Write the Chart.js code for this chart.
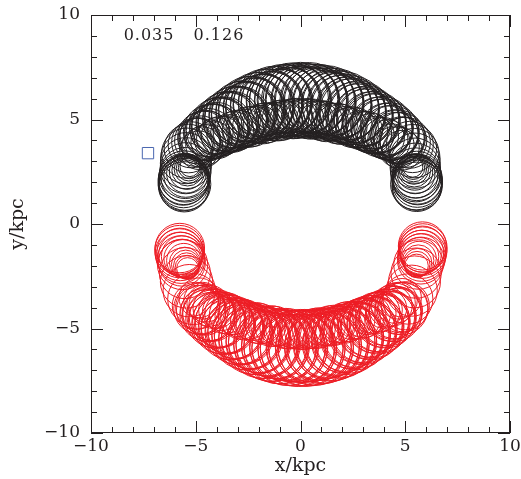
<!DOCTYPE html>
<html lang="en">
<head>
<meta charset="UTF-8">
<title>Orbit loops in the x-y plane</title>
<script src="https://cdn.jsdelivr.net/npm/chart.js"></script>
<style>
  html, body { margin: 0; padding: 0; background: #fff; }
  #wrap { width: 521px; height: 479px; }
</style>
</head>
<body>
<div id="wrap"><canvas id="orbitChart"></canvas></div>
<script>
// axis range and labelled ticks (kpc)
const axisMin = -10, axisMax = 10;
const tickLabels = [-10, -5, 0, 5, 10];
const headerValues = ['0.035', '0.126'];

// upper orbit: loop centres (kpc) and loop radii (kpc)
// rows: wide loops, wide loops (half step), inner loops, inner loops (half step), right end, left end
const upperX = [
  5.00, 4.83, 4.64, 4.46, 4.27, 4.08, 3.90, 3.71, 3.53, 3.34, 3.15, 2.98, 2.79, 2.61, 2.42, 2.23, 2.03, 1.84, 1.64, 1.44, 1.24, 1.03, 0.83, 0.62, 0.42, 0.21, 0.00, -0.21, -0.42, -0.62, -0.83, -1.03, -1.24, -1.44, -1.64, -1.84, -2.03, -2.23, -2.42, -2.61, -2.79, -2.98, -3.15, -3.34, -3.53, -3.71, -3.90, -4.08, -4.27, -4.46, -4.64, -4.83, -5.00,
  4.91, 4.74, 4.55, 4.37, 4.17, 3.99, 3.80, 3.62, 3.44, 3.25, 3.06, 2.88, 2.70, 2.51, 2.32, 2.13, 1.94, 1.74, 1.54, 1.34, 1.14, 0.93, 0.73, 0.52, 0.31, 0.10, -0.10, -0.31, -0.52, -0.73, -0.93, -1.14, -1.34, -1.54, -1.74, -1.94, -2.13, -2.32, -2.51, -2.70, -2.88, -3.06, -3.25, -3.44, -3.62, -3.80, -3.99, -4.17, -4.37, -4.55, -4.74, -4.91,
  4.85, 4.52, 4.17, 3.78, 3.39, 3.02, 2.65, 2.28, 1.93, 1.58, 1.22, 0.88, 0.53, 0.18, -0.18, -0.53, -0.88, -1.22, -1.58, -1.93, -2.28, -2.65, -3.02, -3.39, -3.78, -4.17, -4.52, -4.85,
  4.69, 4.35, 3.98, 3.59, 3.20, 2.84, 2.46, 2.11, 1.75, 1.40, 1.05, 0.70, 0.35, 0.00, -0.35, -0.70, -1.05, -1.40, -1.75, -2.11, -2.46, -2.84, -3.20, -3.59, -3.98, -4.35, -4.69,
  5.22, 5.35, 5.43, 5.46, 5.47, 5.48, 5.50, 5.55, 5.57, 5.58, 5.57, 5.55, 5.52, 5.60, 5.50, 5.50, 5.47, 5.45, 5.43, 5.41, 5.40, 5.38, 5.36,
  -5.22, -5.35, -5.43, -5.46, -5.47, -5.48, -5.50, -5.55, -5.57, -5.58, -5.57, -5.55, -5.52, -5.60, -5.50, -5.48, -5.45, -5.42, -5.39, -5.36, -5.33, -5.30, -5.28
];
const upperY = [
  3.91, 4.05, 4.18, 4.31, 4.42, 4.53, 4.64, 4.74, 4.85, 4.96, 5.05, 5.15, 5.25, 5.35, 5.44, 5.52, 5.59, 5.66, 5.72, 5.77, 5.82, 5.86, 5.89, 5.92, 5.94, 5.94, 5.95, 5.94, 5.94, 5.92, 5.89, 5.86, 5.82, 5.77, 5.72, 5.66, 5.59, 5.52, 5.44, 5.35, 5.25, 5.15, 5.05, 4.96, 4.85, 4.74, 4.64, 4.53, 4.42, 4.31, 4.18, 4.05, 3.91,
  3.98, 4.12, 4.24, 4.37, 4.47, 4.59, 4.69, 4.80, 4.91, 5.00, 5.10, 5.20, 5.30, 5.39, 5.48, 5.55, 5.63, 5.69, 5.75, 5.80, 5.84, 5.88, 5.91, 5.93, 5.94, 5.95, 5.95, 5.94, 5.93, 5.91, 5.88, 5.84, 5.80, 5.75, 5.69, 5.63, 5.55, 5.48, 5.39, 5.30, 5.20, 5.10, 5.00, 4.91, 4.80, 4.69, 4.59, 4.47, 4.37, 4.24, 4.12, 3.98,
  3.53, 3.79, 4.03, 4.20, 4.33, 4.48, 4.59, 4.67, 4.77, 4.85, 4.90, 4.97, 5.02, 5.05, 5.05, 5.02, 4.97, 4.90, 4.85, 4.77, 4.67, 4.59, 4.48, 4.33, 4.20, 4.03, 3.79, 3.53,
  3.67, 3.91, 4.11, 4.27, 4.41, 4.54, 4.64, 4.73, 4.81, 4.88, 4.94, 5.00, 5.04, 5.05, 5.04, 5.00, 4.94, 4.88, 4.81, 4.73, 4.64, 4.54, 4.41, 4.27, 4.11, 3.91, 3.67,
  3.79, 3.61, 3.39, 3.15, 2.91, 2.67, 2.44, 2.30, 2.15, 2.00, 1.85, 1.78, 1.90, 2.08, 2.20, 2.30, 2.40, 2.48, 2.55, 2.60, 2.64, 2.68, 2.72,
  3.79, 3.61, 3.39, 3.15, 2.91, 2.67, 2.44, 2.30, 2.15, 2.00, 1.85, 1.78, 1.90, 2.08, 2.20, 2.32, 2.42, 2.50, 2.57, 2.62, 2.66, 2.70, 2.74
];
const upperR = [
  1.20, 1.08, 1.28, 1.15, 1.38, 1.24, 1.46, 1.32, 1.50, 1.36, 1.55, 1.40, 1.60, 1.45, 1.65, 1.50, 1.70, 1.55, 1.72, 1.55, 1.75, 1.60, 1.75, 1.60, 1.78, 1.62, 1.78, 1.65, 1.76, 1.58, 1.74, 1.56, 1.73, 1.52, 1.70, 1.50, 1.66, 1.45, 1.62, 1.42, 1.58, 1.38, 1.52, 1.32, 1.46, 1.26, 1.40, 1.20, 1.32, 1.10, 1.22, 1.02, 1.15,
  1.12, 1.22, 1.10, 1.30, 1.18, 1.40, 1.27, 1.44, 1.32, 1.50, 1.35, 1.55, 1.40, 1.58, 1.45, 1.62, 1.48, 1.66, 1.50, 1.68, 1.52, 1.70, 1.55, 1.72, 1.56, 1.74, 1.58, 1.72, 1.55, 1.70, 1.52, 1.68, 1.50, 1.66, 1.48, 1.62, 1.45, 1.58, 1.42, 1.55, 1.38, 1.50, 1.34, 1.44, 1.28, 1.38, 1.22, 1.28, 1.15, 1.20, 1.05, 1.10,
  0.95, 0.90, 0.96, 0.90, 0.96, 0.90, 0.96, 0.90, 0.96, 0.92, 0.96, 0.92, 0.96, 0.93, 0.96, 0.92, 0.96, 0.92, 0.96, 0.90, 0.96, 0.90, 0.96, 0.90, 0.96, 0.90, 0.96, 0.92,
  0.98, 0.88, 0.98, 0.88, 0.97, 0.88, 0.97, 0.89, 0.97, 0.89, 0.96, 0.90, 0.96, 0.92, 0.96, 0.90, 0.96, 0.89, 0.97, 0.89, 0.97, 0.88, 0.97, 0.88, 0.98, 0.88, 0.98,
  1.12, 1.15, 1.18, 1.20, 1.20, 1.20, 1.20, 1.18, 1.20, 1.20, 1.20, 1.18, 1.22, 1.16, 1.14, 1.05, 0.95, 0.86, 0.78, 0.70, 0.62, 0.55, 0.48,
  1.10, 1.16, 1.20, 1.22, 1.22, 1.22, 1.22, 1.20, 1.22, 1.22, 1.22, 1.20, 1.24, 1.18, 1.15, 1.04, 0.94, 0.84, 0.75, 0.67, 0.60, 0.53, 0.47
];

// lower orbit: loop centres (kpc) and loop radii (kpc), same row layout
const lowerX = [
  5.00, 4.83, 4.64, 4.46, 4.27, 4.08, 3.90, 3.71, 3.53, 3.34, 3.15, 2.98, 2.79, 2.61, 2.42, 2.23, 2.03, 1.84, 1.64, 1.44, 1.24, 1.03, 0.83, 0.62, 0.42, 0.21, 0.00, -0.21, -0.42, -0.62, -0.83, -1.03, -1.24, -1.44, -1.64, -1.84, -2.03, -2.23, -2.42, -2.61, -2.79, -2.98, -3.15, -3.34, -3.53, -3.71, -3.90, -4.08, -4.27, -4.46, -4.64, -4.83, -5.00,
  4.91, 4.74, 4.55, 4.37, 4.17, 3.99, 3.80, 3.62, 3.44, 3.25, 3.06, 2.88, 2.70, 2.51, 2.32, 2.13, 1.94, 1.74, 1.54, 1.34, 1.14, 0.93, 0.73, 0.52, 0.31, 0.10, -0.10, -0.31, -0.52, -0.73, -0.93, -1.14, -1.34, -1.54, -1.74, -1.94, -2.13, -2.32, -2.51, -2.70, -2.88, -3.06, -3.25, -3.44, -3.62, -3.80, -3.99, -4.17, -4.37, -4.55, -4.74, -4.91,
  4.85, 4.52, 4.17, 3.78, 3.39, 3.02, 2.65, 2.28, 1.93, 1.58, 1.22, 0.88, 0.53, 0.18, -0.18, -0.53, -0.88, -1.22, -1.58, -1.93, -2.28, -2.65, -3.02, -3.39, -3.78, -4.17, -4.52, -4.85,
  4.69, 4.35, 3.98, 3.59, 3.20, 2.84, 2.46, 2.11, 1.75, 1.40, 1.05, 0.70, 0.35, 0.00, -0.35, -0.70, -1.05, -1.40, -1.75, -2.11, -2.46, -2.84, -3.20, -3.59, -3.98, -4.35, -4.69,
  5.12, 5.31, 5.44, 5.52, 5.63, 5.82, 5.84, 5.83, 5.80, 5.78, 5.75, 5.82, 5.78, 5.74, 5.70, 5.66, 5.62, 5.59, 5.56, 5.54,
  -5.12, -5.31, -5.44, -5.52, -5.63, -5.76, -5.78, -5.77, -5.74, -5.70, -5.66, -5.75, -5.72, -5.66, -5.62, -5.57, -5.52, -5.48, -5.44, -5.41, -5.39
];
const lowerY = [
  -3.91, -4.05, -4.18, -4.31, -4.42, -4.53, -4.64, -4.74, -4.85, -4.96, -5.05, -5.15, -5.25, -5.35, -5.44, -5.52, -5.59, -5.66, -5.72, -5.77, -5.82, -5.86, -5.89, -5.92, -5.94, -5.94, -5.95, -5.94, -5.94, -5.92, -5.89, -5.86, -5.82, -5.77, -5.72, -5.66, -5.59, -5.52, -5.44, -5.35, -5.25, -5.15, -5.05, -4.96, -4.85, -4.74, -4.64, -4.53, -4.42, -4.31, -4.18, -4.05, -3.91,
  -3.98, -4.12, -4.24, -4.37, -4.47, -4.59, -4.69, -4.80, -4.91, -5.00, -5.10, -5.20, -5.30, -5.39, -5.48, -5.55, -5.63, -5.69, -5.75, -5.80, -5.84, -5.88, -5.91, -5.93, -5.94, -5.95, -5.95, -5.94, -5.93, -5.91, -5.88, -5.84, -5.80, -5.75, -5.69, -5.63, -5.55, -5.48, -5.39, -5.30, -5.20, -5.10, -5.00, -4.91, -4.80, -4.69, -4.59, -4.47, -4.37, -4.24, -4.12, -3.98,
  -3.53, -3.79, -4.03, -4.20, -4.33, -4.48, -4.59, -4.67, -4.77, -4.85, -4.90, -4.97, -5.02, -5.05, -5.05, -5.02, -4.97, -4.90, -4.85, -4.77, -4.67, -4.59, -4.48, -4.33, -4.20, -4.03, -3.79, -3.53,
  -3.67, -3.91, -4.11, -4.27, -4.41, -4.54, -4.64, -4.73, -4.81, -4.88, -4.94, -5.00, -5.04, -5.05, -5.04, -5.00, -4.94, -4.88, -4.81, -4.73, -4.64, -4.54, -4.41, -4.27, -4.11, -3.91, -3.67,
  -3.59, -3.19, -2.77, -2.35, -1.94, -1.05, -1.15, -1.30, -1.45, -1.60, -1.75, -1.20, -1.35, -1.45, -1.55, -1.65, -1.75, -1.85, -1.93, -2.00,
  -3.59, -3.19, -2.77, -2.35, -1.94, -1.15, -1.25, -1.40, -1.55, -1.70, -1.85, -1.30, -1.45, -1.55, -1.65, -1.75, -1.85, -1.93, -2.00, -2.07, -2.13
];
const lowerR = [
  1.15, 1.25, 1.10, 1.32, 1.18, 1.40, 1.26, 1.48, 1.32, 1.54, 1.38, 1.58, 1.44, 1.63, 1.48, 1.68, 1.52, 1.72, 1.56, 1.75, 1.58, 1.78, 1.60, 1.80, 1.62, 1.82, 1.64, 1.82, 1.62, 1.80, 1.60, 1.78, 1.58, 1.75, 1.55, 1.72, 1.52, 1.68, 1.48, 1.63, 1.44, 1.58, 1.38, 1.54, 1.32, 1.48, 1.25, 1.40, 1.15, 1.30, 1.08, 1.22, 1.12,
  1.18, 1.08, 1.26, 1.14, 1.36, 1.22, 1.44, 1.30, 1.50, 1.36, 1.55, 1.42, 1.60, 1.46, 1.65, 1.50, 1.70, 1.54, 1.74, 1.57, 1.77, 1.59, 1.80, 1.61, 1.82, 1.63, 1.82, 1.61, 1.80, 1.59, 1.77, 1.57, 1.74, 1.54, 1.70, 1.50, 1.65, 1.46, 1.60, 1.42, 1.55, 1.36, 1.50, 1.30, 1.44, 1.22, 1.36, 1.14, 1.26, 1.08, 1.18, 1.05,
  0.92, 0.96, 0.90, 0.96, 0.90, 0.96, 0.90, 0.96, 0.92, 0.96, 0.92, 0.96, 0.93, 0.96, 0.92, 0.96, 0.92, 0.96, 0.90, 0.96, 0.90, 0.96, 0.90, 0.96, 0.90, 0.96, 0.90, 0.95,
  0.88, 0.98, 0.88, 0.97, 0.88, 0.97, 0.89, 0.97, 0.89, 0.96, 0.90, 0.96, 0.92, 0.96, 0.90, 0.96, 0.89, 0.97, 0.89, 0.97, 0.88, 0.97, 0.88, 0.98, 0.88, 0.98, 0.88,
  1.20, 1.22, 1.24, 1.20, 1.18, 1.15, 1.16, 1.16, 1.15, 1.14, 1.12, 1.10, 1.05, 0.98, 0.90, 0.82, 0.75, 0.68, 0.62, 0.56,
  1.22, 1.25, 1.25, 1.22, 1.20, 1.18, 1.18, 1.17, 1.16, 1.14, 1.12, 1.10, 1.05, 0.98, 0.90, 0.82, 0.74, 0.68, 0.62, 0.57, 0.52
];

// reference marker
const markerX = [-7.28];
const markerY = [3.39];

const ink = '#231f20';
const serif = 'DejaVu Serif';

function loops(xs, ys, rs) {
  return xs.map((x, i) => ({ x: x, y: ys[i], r: rs[i] }));
}

// loop radius in kpc -> pixels through the x scale
function loopRadius(ctx) {
  const s = ctx.chart.scales.x;
  if (!s || !ctx.raw) return 0;
  return Math.abs(s.getPixelForValue(ctx.raw.r) - s.getPixelForValue(0));
}

function fmt(v) {
  return v < 0 ? '\u2212' + Math.abs(v) : String(v);
}

// frame with inward ticks on all four sides, plus the two header numbers
const framePlugin = {
  id: 'frame',
  afterDatasetsDraw(chart) {
    const { ctx, chartArea: a, scales: { x, y } } = chart;
    ctx.save();
    ctx.strokeStyle = ink;
    ctx.lineWidth = 1;
    ctx.strokeRect(a.left + 0.5, a.top + 0.5, a.width - 1, a.height - 1);
    ctx.beginPath();
    for (let v = axisMin; v <= axisMax; v++) {
      const len = v % 5 === 0 ? 12 : 6;
      const px = Math.round(x.getPixelForValue(v)) + 0.5;
      const py = Math.round(y.getPixelForValue(v)) + 0.5;
      ctx.moveTo(px, a.bottom); ctx.lineTo(px, a.bottom - len);
      ctx.moveTo(px, a.top); ctx.lineTo(px, a.top + len);
      ctx.moveTo(a.left, py); ctx.lineTo(a.left + len, py);
      ctx.moveTo(a.right, py); ctx.lineTo(a.right - len, py);
    }
    ctx.stroke();

    ctx.fillStyle = ink;
    ctx.font = '16px "' + serif + '"';
    ctx.letterSpacing = '1px';
    ctx.textAlign = 'center';
    ctx.textBaseline = 'middle';
    ctx.fillText(headerValues[0], x.getPixelForValue(-7.23), y.getPixelForValue(9.0));
    ctx.fillText(headerValues[1], x.getPixelForValue(-3.89), y.getPixelForValue(9.0));
    ctx.restore();
  }
};

const loopStyle = {
  backgroundColor: 'rgba(0,0,0,0)',
  pointStyle: 'circle',
  pointRadius: loopRadius,
  pointHoverRadius: loopRadius,
  pointBorderWidth: 1
};

new Chart(document.getElementById('orbitChart'), {
  type: 'scatter',
  data: {
    datasets: [
      Object.assign({ data: loops(upperX, upperY, upperR), borderColor: ink }, loopStyle),
      Object.assign({ data: loops(lowerX, lowerY, lowerR), borderColor: '#ed1c24' }, loopStyle),
      {
        data: markerX.map((x, i) => ({ x: x, y: markerY[i] })),
        borderColor: '#4a67b0',
        backgroundColor: 'rgba(0,0,0,0)',
        pointStyle: 'rect',
        pointRadius: 8,
        pointBorderWidth: 1
      }
    ]
  },
  options: {
    responsive: true,
    maintainAspectRatio: false,
    animation: false,
    events: [],
    layout: { padding: { top: 15, right: 11, left: 0, bottom: 0 } },
    plugins: { legend: { display: false }, tooltip: { enabled: false } },
    scales: {
      x: {
        type: 'linear',
        min: axisMin,
        max: axisMax,
        afterBuildTicks: s => { s.ticks = tickLabels.map(v => ({ value: v })); },
        afterFit: s => { s.height = 46; s.paddingLeft = 0; s.paddingRight = 0; },
        grid: { display: false, drawTicks: false },
        border: { display: false },
        ticks: { padding: 3, color: ink, font: { family: serif, size: 17 }, maxRotation: 0, autoSkip: false, callback: fmt },
        title: { display: true, text: 'x/kpc', color: ink, font: { family: serif, size: 19 }, padding: { top: 0, bottom: 2 } }
      },
      y: {
        type: 'linear',
        min: axisMin,
        max: axisMax,
        afterBuildTicks: s => { s.ticks = tickLabels.map(v => ({ value: v })); },
        afterFit: s => { s.width = 91; s.paddingTop = 0; s.paddingBottom = 0; },
        grid: { display: false, drawTicks: false },
        border: { display: false },
        ticks: { padding: 11, color: ink, font: { family: serif, size: 17 }, autoSkip: false, callback: fmt },
        title: { display: true, text: 'y/kpc', color: ink, font: { family: serif, size: 19 }, padding: { top: 7, bottom: 0 } }
      }
    }
  },
  plugins: [framePlugin]
});
</script>
</body>
</html>
